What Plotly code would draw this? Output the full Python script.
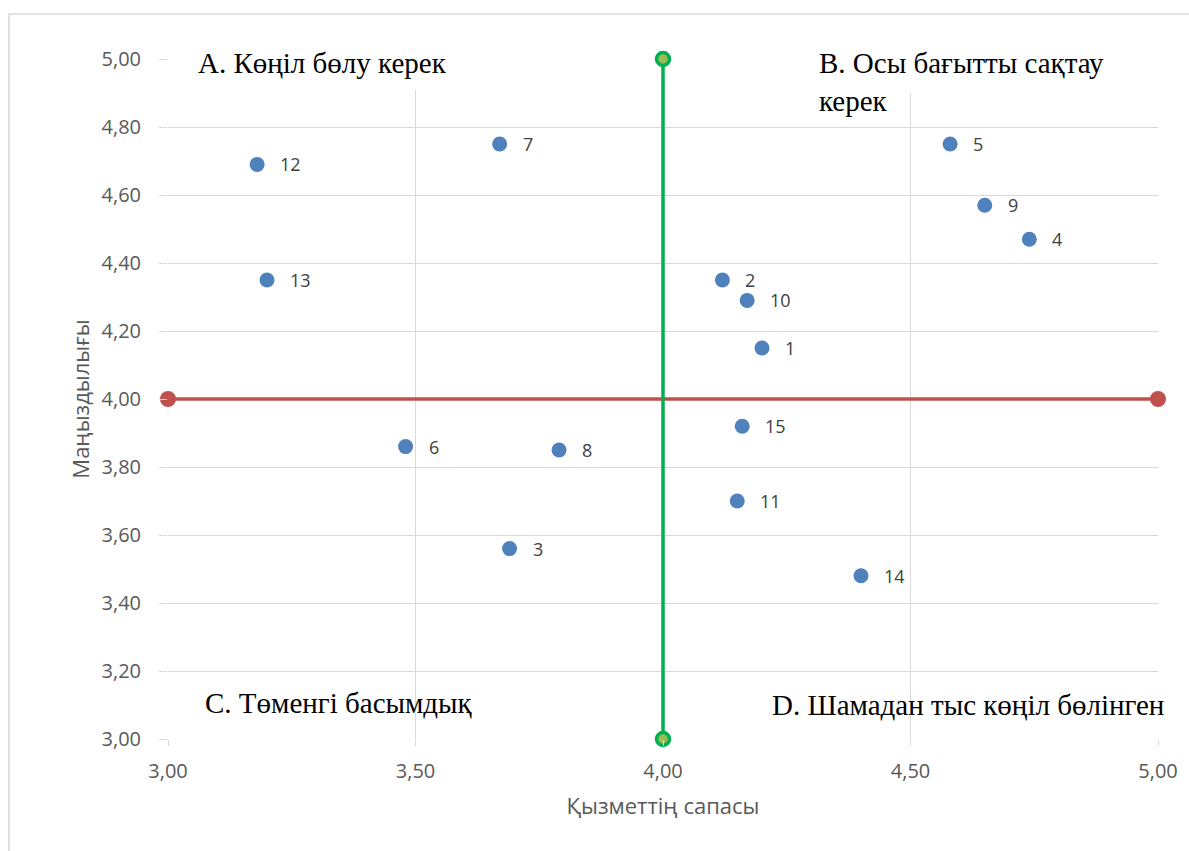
import plotly.graph_objects as go

ids = ["1", "2", "3", "4", "5", "6", "7", "8", "9", "10", "11", "12", "13", "14", "15"]
quality = [4.20, 4.12, 3.69, 4.74, 4.58, 3.48, 3.67, 3.79, 4.65, 4.17, 4.15, 3.18, 3.20, 4.40, 4.16]
importance = [4.15, 4.35, 3.56, 4.47, 4.75, 3.86, 4.75, 3.85, 4.57, 4.29, 3.70, 4.69, 4.35, 3.48, 3.92]

h_line_x = [3.0, 5.0]
h_line_y = [4.0, 4.0]
v_line_x = [4.0, 4.0]
v_line_y = [3.0, 5.0]

quadrant_texts = ["А. Көңіл бөлу керек", "B. Осы бағытты сақтау<br>керек",
                  "С. Төменгі басымдық", "D. Шамадан тыс көңіл бөлінген"]
quadrant_x = [3.057, 4.311, 3.071, 4.216]
quadrant_y = [4.988, 4.931, 3.106, 3.10]

x_title = "Қызметтің сапасы"
y_title = "Маңыздылығы"

label_font = "Open Sans, Noto Sans, sans-serif"
serif_font = "Liberation Serif, Times New Roman, serif"

fig = go.Figure()

fig.add_trace(go.Scatter(
    x=h_line_x, y=h_line_y, mode="lines+markers", cliponaxis=False,
    line=dict(color="#C0504D", width=3.5),
    marker=dict(size=16, color="#C0504D"),
    hoverinfo="skip", showlegend=False))

fig.add_trace(go.Scatter(
    x=v_line_x, y=v_line_y, mode="lines+markers", cliponaxis=False,
    line=dict(color="#00B050", width=3.5),
    marker=dict(size=13, color="#9BBB59", line=dict(color="#00B050", width=3.5)),
    hoverinfo="skip", showlegend=False))

fig.add_trace(go.Scatter(
    x=quality, y=importance, mode="markers", cliponaxis=False,
    marker=dict(size=15, color="#4F81BD"),
    text=ids, showlegend=False))

for xi, yi, t in zip(quality, importance, ids):
    fig.add_annotation(x=xi, y=yi, text=t, showarrow=False, xanchor="left", yanchor="middle",
                       xshift=21, font=dict(family=label_font, size=18, color="#404040"))

# white boxes behind the upper quadrant captions
fig.add_shape(type="rect", xref="x", yref="y", x0=3.024, x1=3.586, y0=4.909, y1=5.08,
              fillcolor="white", line=dict(width=0), layer="between")
fig.add_shape(type="rect", xref="x", yref="y", x0=4.271, x1=5.05, y0=4.90, y1=5.08,
              fillcolor="white", line=dict(width=0), layer="between")

for t, qx, qy in zip(quadrant_texts, quadrant_x, quadrant_y):
    fig.add_annotation(x=qx, y=qy, text=t, showarrow=False, xanchor="left", yanchor="middle",
                       align="left", font=dict(family=serif_font, size=29, color="#000000"))

# outer chart border
fig.add_shape(type="rect", xref="paper", yref="paper",
              x0=(9 - 168) / 990, x1=(1200 - 168) / 990,
              y0=(739 - 870) / 680, y1=(739 - 14) / 680,
              line=dict(color="#D9D9D9", width=1.5), fillcolor="rgba(0,0,0,0)", layer="below")

fig.update_layout(
    width=1189, height=851,
    margin=dict(l=168, r=31, t=59, b=112),
    paper_bgcolor="white", plot_bgcolor="white",
    separators=", ",
    font=dict(family=label_font, color="#595959"),
    xaxis=dict(range=[3, 5], dtick=0.5, tickformat=".2f",
               showgrid=True, gridcolor="#D9D9D9", gridwidth=1.2,
               zeroline=False, showline=False,
               ticks="outside", ticklen=6, tickcolor="#D9D9D9",
               tickfont=dict(size=20, color="#595959"), ticklabelstandoff=8,
               title=dict(text=x_title, font=dict(size=22, color="#595959"), standoff=15)),
    yaxis=dict(range=[3, 5], dtick=0.2, tickformat=".2f",
               showgrid=True, gridcolor="#D9D9D9", gridwidth=1.2,
               zeroline=False, showline=False,
               ticks="outside", ticklen=8, tickcolor="#D9D9D9",
               tickfont=dict(size=20, color="#595959"), ticklabelstandoff=14,
               title=dict(text=y_title, font=dict(size=22, color="#595959"), standoff=5)),
)

fig.write_html("out.html")
